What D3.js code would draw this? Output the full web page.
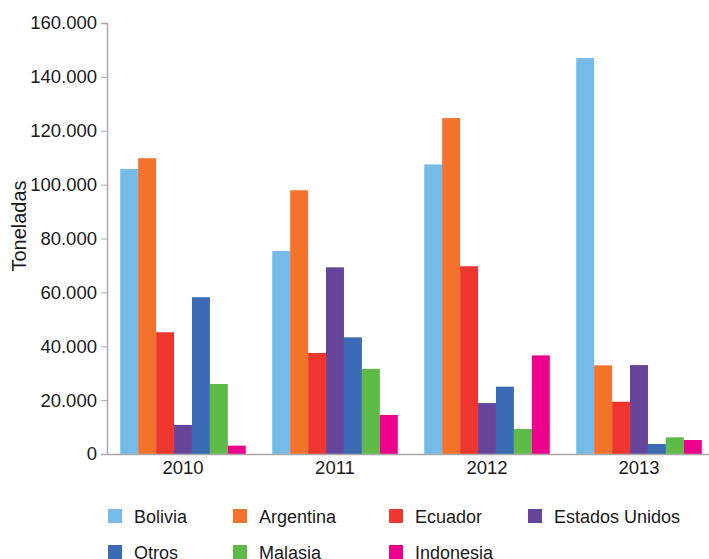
<!DOCTYPE html>
<html><head><meta charset="utf-8">
<script src="https://cdn.jsdelivr.net/npm/d3@7"></script>
<style>body{margin:0;background:#fff}svg{display:block}text{font-family:"Liberation Sans",Arial,sans-serif;fill:#1a1a1a}</style>
</head><body><svg id="c" width="709" height="559"></svg>
<script>
const years = ["2010","2011","2012","2013"];
const series = ["Bolivia","Argentina","Ecuador","Estados Unidos","Otros","Malasia","Indonesia"];
const colors = ["#77BCE8","#F3722C","#EE3530","#66449A","#3B6BB5","#5FBB48","#EC008C"];
const bolivia = [105800, 75400, 107500, 147000];
const argentina = [109800, 97900, 124700, 32900];
const ecuador = [45200, 37500, 69700, 19400];
const estadosUnidos = [10800, 69300, 18900, 33000];
const otros = [58200, 43300, 25000, 3700];
const malasia = [26000, 31600, 9300, 6200];
const indonesia = [3100, 14500, 36600, 5200];
const yTicks = [0,20000,40000,60000,80000,100000,120000,140000,160000];
const values = [bolivia, argentina, ecuador, estadosUnidos, otros, malasia, indonesia];

const svg = d3.select("#c");
const x0 = d3.scaleBand().domain(years).range([107, 715]).padding(0);
const x1 = d3.scaleBand().domain(series).range([0, x0.bandwidth()]).paddingInner(0).paddingOuter(0.735);
const y = d3.scaleLinear().domain([0,160000]).range([454, 23]);
const fmt = v => d3.format(",")(v).replace(/,/g,".");

// bars
const g = svg.append("g");
years.forEach((yr, i) => {
  series.forEach((s, j) => {
    g.append("rect")
      .attr("x", x0(yr) + x1(s))
      .attr("y", y(values[j][i]))
      .attr("width", x1.bandwidth())
      .attr("height", y(0) - y(values[j][i]))
      .attr("fill", colors[j]);
  });
});

// y axis
const ya = svg.append("g").attr("transform","translate(107,0)")
  .call(d3.axisLeft(y).tickValues(yTicks).tickFormat(fmt).tickSize(6).tickPadding(4));
ya.select(".domain").attr("stroke","#aaa").attr("stroke-width",1.5);
ya.selectAll(".tick line").attr("stroke","#aaa");
ya.selectAll(".tick text").attr("font-size",18.5).style("fill","#1a1a1a").attr("font-family","Liberation Sans, Arial, sans-serif");

// x axis
const xa = svg.append("g").attr("transform","translate(0,454)")
  .call(d3.axisBottom(x0).tickSize(0).tickPadding(7));
xa.select(".domain").attr("stroke","#aaa").attr("stroke-width",1.5);
xa.selectAll(".tick text").attr("font-size",18.5).style("fill","#1a1a1a").attr("font-family","Liberation Sans, Arial, sans-serif");

// y label
svg.append("text").attr("transform","translate(26,226) rotate(-90)")
  .attr("text-anchor","middle").attr("font-size",20).text("Toneladas");

// legend
const legX = [108, 233, 389, 528];
const legY = [516, 552];
series.forEach((s, j) => {
  const cx = legX[j % 4], cy = legY[Math.floor(j/4)];
  svg.append("rect").attr("x", cx).attr("y", cy-7).attr("width",14).attr("height",14).attr("fill",colors[j]);
  svg.append("text").attr("x", cx+26).attr("y", cy+6.5).attr("font-size",18).text(s);
});
</script></body></html>
